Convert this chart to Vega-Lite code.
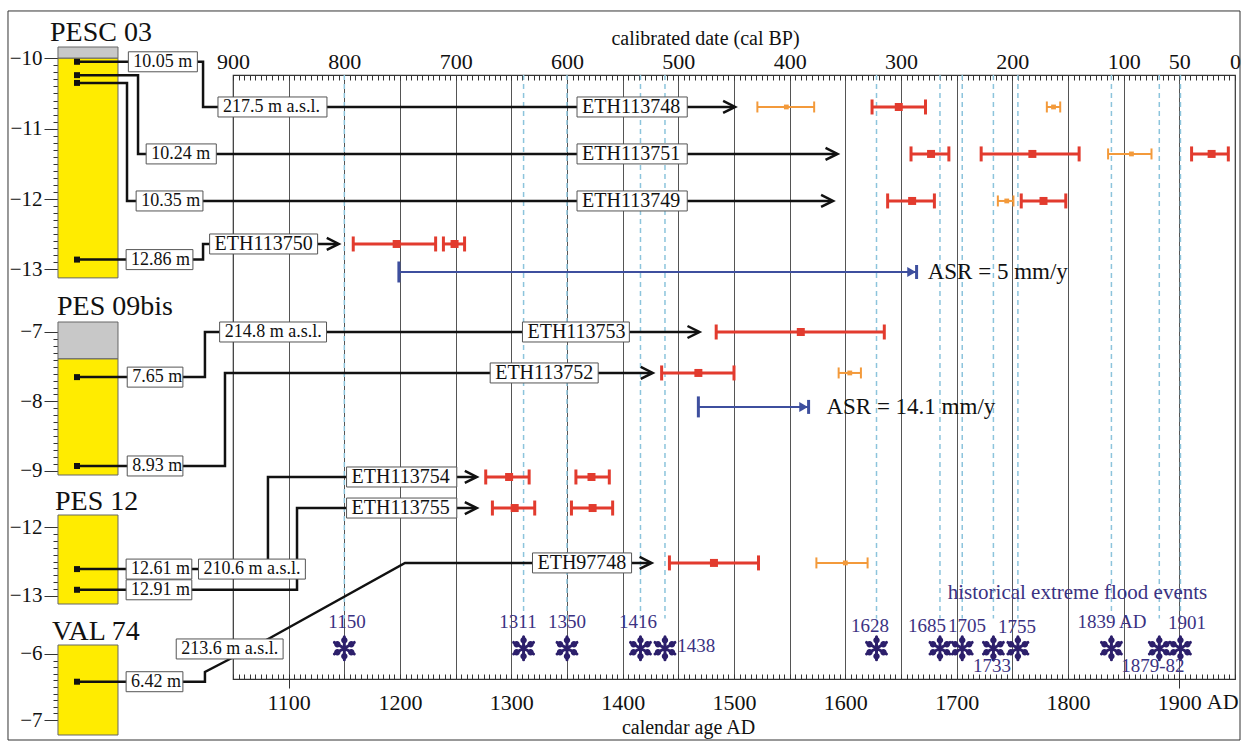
{
  "$schema": "https://vega.github.io/schema/vega-lite/v6.json",
  "width": 1002,
  "height": 604,
  "autosize": "none",
  "padding": {"left": 233, "top": 75, "right": 8, "bottom": 63},
  "background": "white",
  "config": {
    "font": "Liberation Serif",
    "text": {"font": "Liberation Serif"},
    "view": {"stroke": "#333", "strokeWidth": 1.2},
    "axis": {"labelFont": "Liberation Serif", "titleFont": "Liberation Serif", "labelColor": "#111", "titleColor": "#111", "tickColor": "#333", "gridColor": "#555", "titleFontWeight": "normal", "labelOverlap": false, "labelBound": false, "labelFlush": false}
  },
  "datasets": {
    "cores": [
      {"core": "PESC 03", "unit": "top", "x": 892.8, "x2": 946.7, "y": -9.84, "y2": -10.0},
      {"core": "PESC 03", "unit": "sediment", "x": 892.8, "x2": 946.7, "y": -10.0, "y2": -13.12},
      {"core": "PES 09bis", "unit": "top", "x": 892.8, "x2": 946.7, "y": -6.856, "y2": -7.388},
      {"core": "PES 09bis", "unit": "sediment", "x": 892.8, "x2": 946.7, "y": -7.388, "y2": -9.06},
      {"core": "PES 12", "unit": "sediment", "x": 892.8, "x2": 946.7, "y": -11.826, "y2": -13.116},
      {"core": "VAL 74", "unit": "sediment", "x": 892.8, "x2": 946.7, "y": -5.864, "y2": -7.227}
    ],
    "titles": [
      {"core": "PESC 03", "label": "PESC 03", "x": 885.6, "y": -9.648},
      {"core": "PES 09bis", "label": "PES 09bis", "x": 891.9, "y": -6.64},
      {"core": "PES 12", "label": "PES 12", "x": 890.1, "y": -11.638},
      {"core": "VAL 74", "label": "VAL 74", "x": 887.4, "y": -5.667}
    ],
    "samples": [
      {"core": "PESC 03", "x": 909.9, "y": -10.05},
      {"core": "PESC 03", "x": 909.9, "y": -10.24},
      {"core": "PESC 03", "x": 909.9, "y": -10.35},
      {"core": "PESC 03", "x": 909.9, "y": -12.86},
      {"core": "PES 09bis", "x": 909.9, "y": -7.65},
      {"core": "PES 09bis", "x": 909.9, "y": -8.93},
      {"core": "PES 12", "x": 909.9, "y": -12.61},
      {"core": "PES 12", "x": 909.9, "y": -12.91},
      {"core": "VAL 74", "x": 909.9, "y": -6.42}
    ],
    "paths": [
      {"core": "PESC 03", "id": "p1", "ord": 1, "x": 909.9, "y": -10.05},
      {"core": "PESC 03", "id": "p1", "ord": 2, "x": 1023.1, "y": -10.05},
      {"core": "PESC 03", "id": "p1", "ord": 3, "x": 1023.1, "y": -10.692},
      {"core": "PESC 03", "id": "p1", "ord": 4, "x": 1500, "y": -10.692},
      {"core": "PESC 03", "id": "p2", "ord": 1, "x": 909.9, "y": -10.24},
      {"core": "PESC 03", "id": "p2", "ord": 2, "x": 964.7, "y": -10.24},
      {"core": "PESC 03", "id": "p2", "ord": 3, "x": 964.7, "y": -11.359},
      {"core": "PESC 03", "id": "p2", "ord": 4, "x": 1592, "y": -11.359},
      {"core": "PESC 03", "id": "p3", "ord": 1, "x": 909.9, "y": -10.35},
      {"core": "PESC 03", "id": "p3", "ord": 2, "x": 954.8, "y": -10.35},
      {"core": "PESC 03", "id": "p3", "ord": 3, "x": 954.8, "y": -12.027},
      {"core": "PESC 03", "id": "p3", "ord": 4, "x": 1588, "y": -12.027},
      {"core": "PESC 03", "id": "p4", "ord": 1, "x": 909.9, "y": -12.86},
      {"core": "PESC 03", "id": "p4", "ord": 2, "x": 1023.1, "y": -12.86},
      {"core": "PESC 03", "id": "p4", "ord": 3, "x": 1023.1, "y": -12.638},
      {"core": "PESC 03", "id": "p4", "ord": 4, "x": 1144, "y": -12.638},
      {"core": "PES 09bis", "id": "p5", "ord": 1, "x": 909.9, "y": -7.65},
      {"core": "PES 09bis", "id": "p5", "ord": 2, "x": 1024.8, "y": -7.65},
      {"core": "PES 09bis", "id": "p5", "ord": 3, "x": 1024.8, "y": -7.0},
      {"core": "PES 09bis", "id": "p5", "ord": 4, "x": 1468, "y": -7.0},
      {"core": "PES 09bis", "id": "p6", "ord": 1, "x": 909.9, "y": -8.93},
      {"core": "PES 09bis", "id": "p6", "ord": 2, "x": 1042.8, "y": -8.93},
      {"core": "PES 09bis", "id": "p6", "ord": 3, "x": 1042.8, "y": -7.59},
      {"core": "PES 09bis", "id": "p6", "ord": 4, "x": 1426, "y": -7.59},
      {"core": "PES 12", "id": "p7", "ord": 1, "x": 909.9, "y": -12.61},
      {"core": "PES 12", "id": "p7", "ord": 2, "x": 1081.4, "y": -12.61},
      {"core": "PES 12", "id": "p7", "ord": 3, "x": 1081.4, "y": -11.275},
      {"core": "PES 12", "id": "p7", "ord": 4, "x": 1268, "y": -11.275},
      {"core": "PES 12", "id": "p8", "ord": 1, "x": 909.9, "y": -12.91},
      {"core": "PES 12", "id": "p8", "ord": 2, "x": 1107.5, "y": -12.91},
      {"core": "PES 12", "id": "p8", "ord": 3, "x": 1107.5, "y": -11.725},
      {"core": "PES 12", "id": "p8", "ord": 4, "x": 1268, "y": -11.725},
      {"core": "VAL 74", "id": "p9", "ord": 1, "x": 909.9, "y": -6.42},
      {"core": "VAL 74", "id": "p9", "ord": 2, "x": 1024.8, "y": -6.42},
      {"core": "VAL 74", "id": "p9", "ord": 3, "x": 1024.8, "y": -6.273},
      {"core": "VAL 74", "id": "p9", "ord": 4, "x": 1045.5, "y": -6.091},
      {"core": "VAL 74", "id": "p9", "ord": 5, "x": 1083.2, "y": -5.758},
      {"core": "VAL 74", "id": "p9", "ord": 6, "x": 1204.5, "y": -4.621},
      {"core": "VAL 74", "id": "p9", "ord": 7, "x": 1425, "y": -4.621}
    ],
    "arrows": [
      {"core": "PESC 03", "x": 1501, "y": -10.692},
      {"core": "PESC 03", "x": 1593, "y": -11.359},
      {"core": "PESC 03", "x": 1589, "y": -12.027},
      {"core": "PESC 03", "x": 1145, "y": -12.638},
      {"core": "PES 09bis", "x": 1469, "y": -7.0},
      {"core": "PES 09bis", "x": 1427, "y": -7.59},
      {"core": "PES 12", "x": 1269, "y": -11.275},
      {"core": "PES 12", "x": 1269, "y": -11.725},
      {"core": "VAL 74", "x": 1426, "y": -4.621}
    ],
    "boxes": [
      {"core": "PESC 03", "label": "10.05 m", "kind": "depth", "x": 956, "x2": 1018, "y": -10.05},
      {"core": "PESC 03", "label": "217.5 m a.s.l.", "kind": "depth", "x": 1036.5, "x2": 1134.4, "y": -10.692},
      {"core": "PESC 03", "label": "ETH113748", "kind": "lab", "x": 1359, "x2": 1458, "y": -10.692},
      {"core": "PESC 03", "label": "10.24 m", "kind": "depth", "x": 972, "x2": 1035, "y": -11.359},
      {"core": "PESC 03", "label": "ETH113751", "kind": "lab", "x": 1359, "x2": 1458, "y": -11.359},
      {"core": "PESC 03", "label": "10.35 m", "kind": "depth", "x": 963, "x2": 1023, "y": -12.027},
      {"core": "PESC 03", "label": "ETH113749", "kind": "lab", "x": 1359, "x2": 1458, "y": -12.027},
      {"core": "PESC 03", "label": "12.86 m", "kind": "depth", "x": 954, "x2": 1014, "y": -12.86},
      {"core": "PESC 03", "label": "ETH113750", "kind": "lab", "x": 1029, "x2": 1126, "y": -12.638},
      {"core": "PES 09bis", "label": "7.65 m", "kind": "depth", "x": 955, "x2": 1005, "y": -7.65},
      {"core": "PES 09bis", "label": "214.8 m a.s.l.", "kind": "depth", "x": 1038, "x2": 1134, "y": -7.0},
      {"core": "PES 09bis", "label": "ETH113753", "kind": "lab", "x": 1310, "x2": 1406, "y": -7.0},
      {"core": "PES 09bis", "label": "8.93 m", "kind": "depth", "x": 955, "x2": 1005, "y": -8.93},
      {"core": "PES 09bis", "label": "ETH113752", "kind": "lab", "x": 1281, "x2": 1378, "y": -7.59},
      {"core": "PES 12", "label": "12.61 m", "kind": "depth", "x": 954, "x2": 1013, "y": -12.61},
      {"core": "PES 12", "label": "210.6 m a.s.l.", "kind": "depth", "x": 1019, "x2": 1115, "y": -12.61},
      {"core": "PES 12", "label": "12.91 m", "kind": "depth", "x": 954, "x2": 1013, "y": -12.91},
      {"core": "PES 12", "label": "ETH113754", "kind": "lab", "x": 1152, "x2": 1251, "y": -11.275},
      {"core": "PES 12", "label": "ETH113755", "kind": "lab", "x": 1152, "x2": 1251, "y": -11.725},
      {"core": "VAL 74", "label": "6.42 m", "kind": "depth", "x": 954, "x2": 1005, "y": -6.42},
      {"core": "VAL 74", "label": "213.6 m a.s.l.", "kind": "depth", "x": 999, "x2": 1095, "y": -5.924},
      {"core": "VAL 74", "label": "ETH97748", "kind": "lab", "x": 1319, "x2": 1408, "y": -4.621}
    ],
    "bars": [
      {"core": "PESC 03", "y": -10.692, "x": 1521, "xm": 1547, "x2": 1572, "kind": "orange"},
      {"core": "PESC 03", "y": -10.692, "x": 1624, "xm": 1648, "x2": 1672, "kind": "red"},
      {"core": "PESC 03", "y": -10.692, "x": 1781, "xm": 1787, "x2": 1793, "kind": "orange"},
      {"core": "PESC 03", "y": -11.359, "x": 1659, "xm": 1677, "x2": 1693, "kind": "red"},
      {"core": "PESC 03", "y": -11.359, "x": 1722, "xm": 1768, "x2": 1810, "kind": "red"},
      {"core": "PESC 03", "y": -11.359, "x": 1836, "xm": 1857, "x2": 1875, "kind": "orange"},
      {"core": "PESC 03", "y": -11.359, "x": 1911, "xm": 1929, "x2": 1944, "kind": "red"},
      {"core": "PESC 03", "y": -12.027, "x": 1638, "xm": 1660, "x2": 1680, "kind": "red"},
      {"core": "PESC 03", "y": -12.027, "x": 1737, "xm": 1745, "x2": 1751, "kind": "orange"},
      {"core": "PESC 03", "y": -12.027, "x": 1758, "xm": 1778, "x2": 1798, "kind": "red"},
      {"core": "PESC 03", "y": -12.638, "x": 1158, "xm": 1197, "x2": 1232, "kind": "red"},
      {"core": "PESC 03", "y": -12.638, "x": 1239, "xm": 1249, "x2": 1258, "kind": "red"},
      {"core": "PES 09bis", "y": -7.0, "x": 1484, "xm": 1560, "x2": 1635, "kind": "red"},
      {"core": "PES 09bis", "y": -7.59, "x": 1435, "xm": 1468, "x2": 1500, "kind": "red"},
      {"core": "PES 09bis", "y": -7.59, "x": 1594, "xm": 1604, "x2": 1614, "kind": "orange"},
      {"core": "PES 12", "y": -11.275, "x": 1277, "xm": 1298, "x2": 1316, "kind": "red"},
      {"core": "PES 12", "y": -11.275, "x": 1358, "xm": 1372, "x2": 1388, "kind": "red"},
      {"core": "PES 12", "y": -11.725, "x": 1283, "xm": 1303, "x2": 1321, "kind": "red"},
      {"core": "PES 12", "y": -11.725, "x": 1354, "xm": 1373, "x2": 1391, "kind": "red"},
      {"core": "VAL 74", "y": -4.621, "x": 1442, "xm": 1482, "x2": 1522, "kind": "red"},
      {"core": "VAL 74", "y": -4.621, "x": 1574, "xm": 1600, "x2": 1620, "kind": "orange"}
    ],
    "asr": [
      {"core": "PESC 03", "y": -13.036, "x": 1199, "x2": 1664, "label": "ASR = 5 mm/y", "lx": 1674},
      {"core": "PES 09bis", "y": -8.079, "x": 1468, "x2": 1567, "label": "ASR = 14.1 mm/y", "lx": 1583}
    ],
    "floods": [
      {"x": 1150, "label": "1150", "lx": 1152.4, "ly": 0.906},
      {"x": 1311, "label": "1311", "lx": 1306, "ly": 0.906},
      {"x": 1350, "label": "1350", "lx": 1350, "ly": 0.906},
      {"x": 1416, "label": "1416", "lx": 1413.8, "ly": 0.906},
      {"x": 1438, "label": "1438", "lx": 1466, "ly": 0.945},
      {"x": 1628, "label": "1628", "lx": 1622.2, "ly": 0.912},
      {"x": 1685, "label": "1685", "lx": 1673.4, "ly": 0.912},
      {"x": 1705, "label": "1705", "lx": 1709.3, "ly": 0.912},
      {"x": 1733, "label": "1733", "lx": 1731.7, "ly": 0.979},
      {"x": 1755, "label": "1755", "lx": 1754.2, "ly": 0.914},
      {"x": 1839, "label": "1839 AD", "lx": 1839.5, "ly": 0.906},
      {"x": 1882, "label": "1879-82", "lx": 1876.3, "ly": 0.979},
      {"x": 1901, "label": "1901", "lx": 1906.9, "ly": 0.907}
    ]
  },
  "layer": [
    {
      "resolve": {"axis": {"x": "independent"}},
      "layer": [
        {
          "data": {"name": "floods"},
          "mark": {"type": "rule", "stroke": "#8cc4dc", "strokeWidth": 1.5, "strokeDash": [5, 4]},
          "encoding": {
            "x": {"field": "x", "type": "quantitative", "scale": {"domain": [1050, 1950], "nice": false, "zero": false},
              "axis": {"orient": "bottom", "values": [1100, 1200, 1300, 1400, 1500, 1600, 1700, 1800, 1900], "format": "d", "tickSize": 9,
                "tickOpacity": {"condition": {"test": "datum.value == 1100 || datum.value == 1900", "value": 1}, "value": 0},
                "labelPadding": 4, "labelFontSize": 22, "domain": false, "grid": false,
                "title": "calendar age AD", "titleFontSize": 20, "titleX": 455, "titleY": 48, "titleBaseline": "middle", "titleAlign": "center"}},
            "y": {"datum": 0, "type": "quantitative", "scale": {"domain": [0, 1], "range": [0, 604], "nice": false, "zero": false}, "axis": null},
            "y2": {"datum": 0.9}
          }
        },
        {
          "data": {"name": "floods"},
          "mark": {"type": "point", "shape": "M0,-1V1M-0.866,-0.5L0.866,0.5M-0.866,0.5L0.866,-0.5", "filled": false, "size": 529, "strokeWidth": 3, "strokeCap": "round", "color": "#2c1f6b", "opacity": 1},
          "encoding": {
            "x": {"field": "x", "type": "quantitative", "scale": {"domain": [1050, 1950], "nice": false, "zero": false},
              "axis": {"orient": "bottom", "ticks": true, "tickSize": -5, "tickColor": "#333", "tickWidth": 1,
                "values": [1050,1055,1060,1065,1070,1075,1080,1085,1090,1095,1100,1105,1110,1115,1120,1125,1130,1135,1140,1145,1150,1155,1160,1165,1170,1175,1180,1185,1190,1195,1200,1205,1210,1215,1220,1225,1230,1235,1240,1245,1250,1255,1260,1265,1270,1275,1280,1285,1290,1295,1300,1305,1310,1315,1320,1325,1330,1335,1340,1345,1350,1355,1360,1365,1370,1375,1380,1385,1390,1395,1400,1405,1410,1415,1420,1425,1430,1435,1440,1445,1450,1455,1460,1465,1470,1475,1480,1485,1490,1495,1500,1505,1510,1515,1520,1525,1530,1535,1540,1545,1550,1555,1560,1565,1570,1575,1580,1585,1590,1595,1600,1605,1610,1615,1620,1625,1630,1635,1640,1645,1650,1655,1660,1665,1670,1675,1680,1685,1690,1695,1700,1705,1710,1715,1720,1725,1730,1735,1740,1745,1750,1755,1760,1765,1770,1775,1780,1785,1790,1795,1800,1805,1810,1815,1820,1825,1830,1835,1840,1845,1850,1855,1860,1865,1870,1875,1880,1885,1890,1895,1900,1905,1910,1915,1920,1925,1930,1935,1940,1945,1950],
                "labels": false, "domain": false, "grid": false, "title": null}},
            "y": {"datum": 0.949, "type": "quantitative", "scale": {"domain": [0, 1], "range": [0, 604], "nice": false, "zero": false}, "axis": null}
          }
        },
        {
          "data": {"name": "floods"},
          "mark": {"type": "point", "shape": "M-0.28,-0.7a0.28,0.28 0 1,0 0.56,0a0.28,0.28 0 1,0 -0.56,0ZM-0.28,0.7a0.28,0.28 0 1,0 0.56,0a0.28,0.28 0 1,0 -0.56,0ZM0.326,-0.35a0.28,0.28 0 1,0 0.56,0a0.28,0.28 0 1,0 -0.56,0ZM-0.886,0.35a0.28,0.28 0 1,0 0.56,0a0.28,0.28 0 1,0 -0.56,0ZM0.326,0.35a0.28,0.28 0 1,0 0.56,0a0.28,0.28 0 1,0 -0.56,0ZM-0.886,-0.35a0.28,0.28 0 1,0 0.56,0a0.28,0.28 0 1,0 -0.56,0Z", "filled": true, "size": 529, "color": "#2c1f6b", "opacity": 1},
          "encoding": {
            "x": {"field": "x", "type": "quantitative", "scale": {"domain": [1050, 1950], "nice": false, "zero": false}, "axis": null},
            "y": {"datum": 0.949, "type": "quantitative", "scale": {"domain": [0, 1], "range": [0, 604], "nice": false, "zero": false}, "axis": null}
          }
        },
        {
          "data": {"name": "floods"},
          "mark": {"type": "text", "fontSize": 19, "color": "#3b3282", "align": "center", "baseline": "middle"},
          "encoding": {
            "x": {"field": "lx", "type": "quantitative", "scale": {"domain": [1050, 1950], "nice": false, "zero": false},
              "axis": {"orient": "top", "values": [1050, 1150, 1250, 1350, 1450, 1550, 1650, 1750, 1850, 1900, 1950],
                "labelExpr": "format(1950 - datum.value, 'd')", "ticks": false, "domain": false, "grid": false,
                "labelPadding": 2, "labelFontSize": 22,
                "title": "calibrated date (cal BP)", "titleFontSize": 20, "titleX": 472, "titleY": -37, "titleBaseline": "middle", "titleAlign": "center"}},
            "y": {"field": "ly", "type": "quantitative", "scale": {"domain": [0, 1], "range": [0, 604], "nice": false, "zero": false}, "axis": null},
            "text": {"field": "label"}
          }
        },
        {
          "data": {"values": [{"label": "historical extreme flood events"}]},
          "mark": {"type": "text", "fontSize": 21, "color": "#3b3282", "align": "center", "baseline": "middle"},
          "encoding": {
            "x": {"datum": 1808.5, "type": "quantitative", "scale": {"domain": [1050, 1950], "nice": false, "zero": false},
              "axis": {"orient": "top", "ticks": true, "tickSize": -5, "tickColor": "#333", "tickWidth": 1,
                "values": [1050,1055,1060,1065,1070,1075,1080,1085,1090,1095,1100,1105,1110,1115,1120,1125,1130,1135,1140,1145,1150,1155,1160,1165,1170,1175,1180,1185,1190,1195,1200,1205,1210,1215,1220,1225,1230,1235,1240,1245,1250,1255,1260,1265,1270,1275,1280,1285,1290,1295,1300,1305,1310,1315,1320,1325,1330,1335,1340,1345,1350,1355,1360,1365,1370,1375,1380,1385,1390,1395,1400,1405,1410,1415,1420,1425,1430,1435,1440,1445,1450,1455,1460,1465,1470,1475,1480,1485,1490,1495,1500,1505,1510,1515,1520,1525,1530,1535,1540,1545,1550,1555,1560,1565,1570,1575,1580,1585,1590,1595,1600,1605,1610,1615,1620,1625,1630,1635,1640,1645,1650,1655,1660,1665,1670,1675,1680,1685,1690,1695,1700,1705,1710,1715,1720,1725,1730,1735,1740,1745,1750,1755,1760,1765,1770,1775,1780,1785,1790,1795,1800,1805,1810,1815,1820,1825,1830,1835,1840,1845,1850,1855,1860,1865,1870,1875,1880,1885,1890,1895,1900,1905,1910,1915,1920,1925,1930,1935,1940,1945,1950],
                "labels": false, "domain": false, "grid": false, "title": null}},
            "y": {"datum": 0.858, "type": "quantitative", "scale": {"domain": [0, 1], "range": [0, 604], "nice": false, "zero": false}, "axis": null},
            "text": {"field": "label"}
          }
        },
        {
          "data": {"values": [{"label": "AD"}]},
          "mark": {"type": "text", "fontSize": 22, "color": "#111", "align": "center", "baseline": "top"},
          "encoding": {
            "x": {"datum": 1939, "type": "quantitative", "scale": {"domain": [1050, 1950], "nice": false, "zero": false},
              "axis": {"orient": "bottom", "values": [1100, 1150, 1200, 1250, 1300, 1350, 1400, 1450, 1500, 1550, 1600, 1650, 1700, 1750, 1800, 1850, 1900], "grid": true, "gridColor": "#555", "gridWidth": 1, "ticks": false, "labels": false, "domain": false, "title": null}},
            "y": {"datum": 1.0215, "type": "quantitative", "scale": {"domain": [0, 1], "range": [0, 604], "nice": false, "zero": false}, "axis": null},
            "text": {"field": "label"}
          }
        },
        {
          "data": {"values": [{"label": "frame"}]},
          "mark": {"type": "rect", "filled": false, "color": "#333", "strokeWidth": 1},
          "encoding": {
            "x": {"datum": 847.9, "type": "quantitative", "scale": {"domain": [1050, 1950], "nice": false, "zero": false}, "axis": null},
            "x2": {"datum": 1954.5},
            "y": {"datum": -0.106, "type": "quantitative", "scale": {"domain": [0, 1], "range": [0, 604], "nice": false, "zero": false}, "axis": null},
            "y2": {"datum": 1.101}
          }
        }
      ]
    },
    {
      "encoding": {
        "x": {"field": "x", "type": "quantitative", "scale": {"domain": [1050, 1950], "nice": false, "zero": false}, "axis": null},
        "y": {"field": "y", "type": "quantitative", "scale": {"domain": [-13.12, -9.84], "range": [202.9, -28], "nice": false, "zero": false},
          "axis": {"orient": "left", "offset": 175, "values": [-10, -10.1, -10.2, -10.3, -10.4, -10.5, -10.6, -10.7, -10.8, -10.9, -11, -11.1, -11.2, -11.3, -11.4, -11.5, -11.6, -11.7, -11.8, -11.9, -12, -12.1, -12.2, -12.3, -12.4, -12.5, -12.6, -12.7, -12.8, -12.9, -13],
            "domain": false, "grid": false, "title": null,
            "tickSize": {"condition": {"test": "datum.value == round(datum.value)", "value": 14}, "value": 5},
            "labelExpr": "datum.value == round(datum.value) ? format(datum.value, 'd') : ''",
            "labelPadding": 2, "labelFontSize": 21}}
      },
      "layer": [
        {"data": {"name": "cores"}, "transform": [{"filter": "datum.core == 'PESC 03'"}], "mark": {"type": "rect", "stroke": "#666", "strokeWidth": 1},
          "encoding": {"x2": {"field": "x2"}, "y2": {"field": "y2"}, "color": {"field": "unit", "type": "nominal", "scale": {"domain": ["top", "sediment", "red", "orange"], "range": ["#c8c8c8", "#ffec00", "#e23b2e", "#f39a3b"]}, "legend": null}}},
        {"data": {"name": "paths"}, "transform": [{"filter": "datum.core == 'PESC 03'"}], "mark": {"type": "line", "color": "#111", "strokeWidth": 2.5},
          "encoding": {"detail": {"field": "id", "type": "nominal"}, "order": {"field": "ord", "type": "quantitative"}}},
        {"data": {"name": "samples"}, "transform": [{"filter": "datum.core == 'PESC 03'"}], "mark": {"type": "point", "shape": "square", "filled": true, "size": 36, "color": "#111", "opacity": 1}},
        {"data": {"name": "arrows"}, "transform": [{"filter": "datum.core == 'PESC 03'"}], "mark": {"type": "point", "shape": "M-2,-1L0,0L-2,1", "filled": false, "size": 144, "color": "#111", "strokeWidth": 2.5, "opacity": 1}},
        {"data": {"name": "boxes"}, "transform": [{"filter": "datum.core == 'PESC 03'"}], "mark": {"type": "rect", "fill": "white", "stroke": "#555", "strokeWidth": 1, "yOffset": -10, "y2Offset": 10},
          "encoding": {"x2": {"field": "x2"}, "y2": {"field": "y"}}},
        {"data": {"name": "boxes"}, "transform": [{"filter": "datum.core == 'PESC 03' && datum.kind == 'depth'"}], "mark": {"type": "text", "align": "left", "baseline": "middle", "dx": 5, "fontSize": 18, "color": "#111"},
          "encoding": {"text": {"field": "label"}}},
        {"data": {"name": "boxes"}, "transform": [{"filter": "datum.core == 'PESC 03' && datum.kind == 'lab'"}], "mark": {"type": "text", "align": "left", "baseline": "middle", "dx": 5, "fontSize": 20, "color": "#111"},
          "encoding": {"text": {"field": "label"}}},
        {"data": {"name": "bars"}, "transform": [{"filter": "datum.core == 'PESC 03'"}], "mark": {"type": "rule"},
          "encoding": {"x2": {"field": "x2"}, "color": {"field": "kind", "type": "nominal", "scale": {"domain": ["top", "sediment", "red", "orange"], "range": ["#c8c8c8", "#ffec00", "#e23b2e", "#f39a3b"]}, "legend": null},
            "strokeWidth": {"field": "kind", "type": "nominal", "scale": {"domain": ["red", "orange"], "range": [3, 2]}, "legend": null}}},
        {"data": {"name": "bars"}, "transform": [{"filter": "datum.core == 'PESC 03'"}, {"fold": ["x", "x2"], "as": ["end", "xc"]}], "mark": {"type": "point", "shape": "M0,-1V1", "filled": false, "opacity": 1},
          "encoding": {"x": {"field": "xc", "type": "quantitative", "scale": {"domain": [1050, 1950], "nice": false, "zero": false}, "axis": null},
            "color": {"field": "kind", "type": "nominal", "scale": {"domain": ["top", "sediment", "red", "orange"], "range": ["#c8c8c8", "#ffec00", "#e23b2e", "#f39a3b"]}, "legend": null},
            "strokeWidth": {"field": "kind", "type": "nominal", "scale": {"domain": ["red", "orange"], "range": [3, 2]}, "legend": null},
            "size": {"field": "kind", "type": "nominal", "scale": {"domain": ["red", "orange"], "range": [225, 121]}, "legend": null}}},
        {"data": {"name": "bars"}, "transform": [{"filter": "datum.core == 'PESC 03'"}], "mark": {"type": "point", "filled": true, "size": 64, "opacity": 1},
          "encoding": {"x": {"field": "xm", "type": "quantitative", "scale": {"domain": [1050, 1950], "nice": false, "zero": false}, "axis": null},
            "color": {"field": "kind", "type": "nominal", "scale": {"domain": ["top", "sediment", "red", "orange"], "range": ["#c8c8c8", "#ffec00", "#e23b2e", "#f39a3b"]}, "legend": null},
            "shape": {"field": "kind", "type": "nominal", "scale": {"domain": ["red", "orange"], "range": ["M-1,-1H1V1H-1Z", "M-0.6,-0.6H0.6V0.6H-0.6Z"]}, "legend": null}}},
        {"data": {"name": "asr"}, "transform": [{"filter": "datum.core == 'PESC 03'"}], "mark": {"type": "rule", "color": "#3e4f9e", "strokeWidth": 2},
          "encoding": {"x2": {"field": "x2"}}},
        {"data": {"name": "asr"}, "transform": [{"filter": "datum.core == 'PESC 03'"}], "mark": {"type": "point", "shape": "M0,-1V1", "filled": false, "size": 441, "strokeWidth": 3, "color": "#3e4f9e", "opacity": 1}},
        {"data": {"name": "asr"}, "transform": [{"filter": "datum.core == 'PESC 03'"}], "mark": {"type": "point", "shape": "triangle-right", "filled": true, "size": 100, "xOffset": -5, "color": "#3e4f9e", "opacity": 1},
          "encoding": {"x": {"field": "x2", "type": "quantitative", "scale": {"domain": [1050, 1950], "nice": false, "zero": false}, "axis": null}}},
        {"data": {"name": "asr"}, "transform": [{"filter": "datum.core == 'PESC 03'"}], "mark": {"type": "point", "shape": "M0,-1V1", "filled": false, "size": 196, "strokeWidth": 3, "color": "#3e4f9e", "opacity": 1},
          "encoding": {"x": {"field": "x2", "type": "quantitative", "scale": {"domain": [1050, 1950], "nice": false, "zero": false}, "axis": null}}},
        {"data": {"name": "asr"}, "transform": [{"filter": "datum.core == 'PESC 03'"}], "mark": {"type": "text", "align": "left", "baseline": "middle", "fontSize": 23, "color": "#111"},
          "encoding": {"x": {"field": "lx", "type": "quantitative", "scale": {"domain": [1050, 1950], "nice": false, "zero": false}, "axis": null}, "text": {"field": "label"}}},
        {"data": {"name": "titles"}, "transform": [{"filter": "datum.core == 'PESC 03'"}], "mark": {"type": "text", "align": "left", "baseline": "middle", "fontSize": 28, "color": "#111"},
          "encoding": {"text": {"field": "label"}}}
      ]
    },
    {
      "encoding": {
        "x": {"field": "x", "type": "quantitative", "scale": {"domain": [1050, 1950], "nice": false, "zero": false}, "axis": null},
        "y": {"field": "y", "type": "quantitative", "scale": {"domain": [-9.06, -6.856], "range": [400, 247], "nice": false, "zero": false},
          "axis": {"orient": "left", "offset": 175, "values": [-7, -7.1, -7.2, -7.3, -7.4, -7.5, -7.6, -7.7, -7.8, -7.9, -8, -8.1, -8.2, -8.3, -8.4, -8.5, -8.6, -8.7, -8.8, -8.9, -9],
            "domain": false, "grid": false, "title": null,
            "tickSize": {"condition": {"test": "datum.value == round(datum.value)", "value": 14}, "value": 5},
            "labelExpr": "datum.value == round(datum.value) ? format(datum.value, 'd') : ''",
            "labelPadding": 2, "labelFontSize": 21}}
      },
      "layer": [
        {"data": {"name": "cores"}, "transform": [{"filter": "datum.core == 'PES 09bis'"}], "mark": {"type": "rect", "stroke": "#666", "strokeWidth": 1},
          "encoding": {"x2": {"field": "x2"}, "y2": {"field": "y2"}, "color": {"field": "unit", "type": "nominal", "scale": {"domain": ["top", "sediment", "red", "orange"], "range": ["#c8c8c8", "#ffec00", "#e23b2e", "#f39a3b"]}, "legend": null}}},
        {"data": {"name": "paths"}, "transform": [{"filter": "datum.core == 'PES 09bis'"}], "mark": {"type": "line", "color": "#111", "strokeWidth": 2.5},
          "encoding": {"detail": {"field": "id", "type": "nominal"}, "order": {"field": "ord", "type": "quantitative"}}},
        {"data": {"name": "samples"}, "transform": [{"filter": "datum.core == 'PES 09bis'"}], "mark": {"type": "point", "shape": "square", "filled": true, "size": 36, "color": "#111", "opacity": 1}},
        {"data": {"name": "arrows"}, "transform": [{"filter": "datum.core == 'PES 09bis'"}], "mark": {"type": "point", "shape": "M-2,-1L0,0L-2,1", "filled": false, "size": 144, "color": "#111", "strokeWidth": 2.5, "opacity": 1}},
        {"data": {"name": "boxes"}, "transform": [{"filter": "datum.core == 'PES 09bis'"}], "mark": {"type": "rect", "fill": "white", "stroke": "#555", "strokeWidth": 1, "yOffset": -10, "y2Offset": 10},
          "encoding": {"x2": {"field": "x2"}, "y2": {"field": "y"}}},
        {"data": {"name": "boxes"}, "transform": [{"filter": "datum.core == 'PES 09bis' && datum.kind == 'depth'"}], "mark": {"type": "text", "align": "left", "baseline": "middle", "dx": 5, "fontSize": 18, "color": "#111"},
          "encoding": {"text": {"field": "label"}}},
        {"data": {"name": "boxes"}, "transform": [{"filter": "datum.core == 'PES 09bis' && datum.kind == 'lab'"}], "mark": {"type": "text", "align": "left", "baseline": "middle", "dx": 5, "fontSize": 20, "color": "#111"},
          "encoding": {"text": {"field": "label"}}},
        {"data": {"name": "bars"}, "transform": [{"filter": "datum.core == 'PES 09bis'"}], "mark": {"type": "rule"},
          "encoding": {"x2": {"field": "x2"}, "color": {"field": "kind", "type": "nominal", "scale": {"domain": ["top", "sediment", "red", "orange"], "range": ["#c8c8c8", "#ffec00", "#e23b2e", "#f39a3b"]}, "legend": null},
            "strokeWidth": {"field": "kind", "type": "nominal", "scale": {"domain": ["red", "orange"], "range": [3, 2]}, "legend": null}}},
        {"data": {"name": "bars"}, "transform": [{"filter": "datum.core == 'PES 09bis'"}, {"fold": ["x", "x2"], "as": ["end", "xc"]}], "mark": {"type": "point", "shape": "M0,-1V1", "filled": false, "opacity": 1},
          "encoding": {"x": {"field": "xc", "type": "quantitative", "scale": {"domain": [1050, 1950], "nice": false, "zero": false}, "axis": null},
            "color": {"field": "kind", "type": "nominal", "scale": {"domain": ["top", "sediment", "red", "orange"], "range": ["#c8c8c8", "#ffec00", "#e23b2e", "#f39a3b"]}, "legend": null},
            "strokeWidth": {"field": "kind", "type": "nominal", "scale": {"domain": ["red", "orange"], "range": [3, 2]}, "legend": null},
            "size": {"field": "kind", "type": "nominal", "scale": {"domain": ["red", "orange"], "range": [225, 121]}, "legend": null}}},
        {"data": {"name": "bars"}, "transform": [{"filter": "datum.core == 'PES 09bis'"}], "mark": {"type": "point", "filled": true, "size": 64, "opacity": 1},
          "encoding": {"x": {"field": "xm", "type": "quantitative", "scale": {"domain": [1050, 1950], "nice": false, "zero": false}, "axis": null},
            "color": {"field": "kind", "type": "nominal", "scale": {"domain": ["top", "sediment", "red", "orange"], "range": ["#c8c8c8", "#ffec00", "#e23b2e", "#f39a3b"]}, "legend": null},
            "shape": {"field": "kind", "type": "nominal", "scale": {"domain": ["red", "orange"], "range": ["M-1,-1H1V1H-1Z", "M-0.6,-0.6H0.6V0.6H-0.6Z"]}, "legend": null}}},
        {"data": {"name": "asr"}, "transform": [{"filter": "datum.core == 'PES 09bis'"}], "mark": {"type": "rule", "color": "#3e4f9e", "strokeWidth": 2},
          "encoding": {"x2": {"field": "x2"}}},
        {"data": {"name": "asr"}, "transform": [{"filter": "datum.core == 'PES 09bis'"}], "mark": {"type": "point", "shape": "M0,-1V1", "filled": false, "size": 441, "strokeWidth": 3, "color": "#3e4f9e", "opacity": 1}},
        {"data": {"name": "asr"}, "transform": [{"filter": "datum.core == 'PES 09bis'"}], "mark": {"type": "point", "shape": "triangle-right", "filled": true, "size": 100, "xOffset": -5, "color": "#3e4f9e", "opacity": 1},
          "encoding": {"x": {"field": "x2", "type": "quantitative", "scale": {"domain": [1050, 1950], "nice": false, "zero": false}, "axis": null}}},
        {"data": {"name": "asr"}, "transform": [{"filter": "datum.core == 'PES 09bis'"}], "mark": {"type": "point", "shape": "M0,-1V1", "filled": false, "size": 196, "strokeWidth": 3, "color": "#3e4f9e", "opacity": 1},
          "encoding": {"x": {"field": "x2", "type": "quantitative", "scale": {"domain": [1050, 1950], "nice": false, "zero": false}, "axis": null}}},
        {"data": {"name": "asr"}, "transform": [{"filter": "datum.core == 'PES 09bis'"}], "mark": {"type": "text", "align": "left", "baseline": "middle", "fontSize": 23, "color": "#111"},
          "encoding": {"x": {"field": "lx", "type": "quantitative", "scale": {"domain": [1050, 1950], "nice": false, "zero": false}, "axis": null}, "text": {"field": "label"}}},
        {"data": {"name": "titles"}, "transform": [{"filter": "datum.core == 'PES 09bis'"}], "mark": {"type": "text", "align": "left", "baseline": "middle", "fontSize": 28, "color": "#111"},
          "encoding": {"text": {"field": "label"}}}
      ]
    },
    {
      "encoding": {
        "x": {"field": "x", "type": "quantitative", "scale": {"domain": [1050, 1950], "nice": false, "zero": false}, "axis": null},
        "y": {"field": "y", "type": "quantitative", "scale": {"domain": [-13.116, -11.826], "range": [529, 440], "nice": false, "zero": false},
          "axis": {"orient": "left", "offset": 175, "values": [-12, -12.1, -12.2, -12.3, -12.4, -12.5, -12.6, -12.7, -12.8, -12.9, -13],
            "domain": false, "grid": false, "title": null,
            "tickSize": {"condition": {"test": "datum.value == round(datum.value)", "value": 14}, "value": 5},
            "labelExpr": "datum.value == round(datum.value) ? format(datum.value, 'd') : ''",
            "labelPadding": 2, "labelFontSize": 21}}
      },
      "layer": [
        {"data": {"name": "cores"}, "transform": [{"filter": "datum.core == 'PES 12'"}], "mark": {"type": "rect", "stroke": "#666", "strokeWidth": 1},
          "encoding": {"x2": {"field": "x2"}, "y2": {"field": "y2"}, "color": {"field": "unit", "type": "nominal", "scale": {"domain": ["top", "sediment", "red", "orange"], "range": ["#c8c8c8", "#ffec00", "#e23b2e", "#f39a3b"]}, "legend": null}}},
        {"data": {"name": "paths"}, "transform": [{"filter": "datum.core == 'PES 12'"}], "mark": {"type": "line", "color": "#111", "strokeWidth": 2.5},
          "encoding": {"detail": {"field": "id", "type": "nominal"}, "order": {"field": "ord", "type": "quantitative"}}},
        {"data": {"name": "samples"}, "transform": [{"filter": "datum.core == 'PES 12'"}], "mark": {"type": "point", "shape": "square", "filled": true, "size": 36, "color": "#111", "opacity": 1}},
        {"data": {"name": "arrows"}, "transform": [{"filter": "datum.core == 'PES 12'"}], "mark": {"type": "point", "shape": "M-2,-1L0,0L-2,1", "filled": false, "size": 144, "color": "#111", "strokeWidth": 2.5, "opacity": 1}},
        {"data": {"name": "boxes"}, "transform": [{"filter": "datum.core == 'PES 12'"}], "mark": {"type": "rect", "fill": "white", "stroke": "#555", "strokeWidth": 1, "yOffset": -10, "y2Offset": 10},
          "encoding": {"x2": {"field": "x2"}, "y2": {"field": "y"}}},
        {"data": {"name": "boxes"}, "transform": [{"filter": "datum.core == 'PES 12' && datum.kind == 'depth'"}], "mark": {"type": "text", "align": "left", "baseline": "middle", "dx": 5, "fontSize": 18, "color": "#111"},
          "encoding": {"text": {"field": "label"}}},
        {"data": {"name": "boxes"}, "transform": [{"filter": "datum.core == 'PES 12' && datum.kind == 'lab'"}], "mark": {"type": "text", "align": "left", "baseline": "middle", "dx": 5, "fontSize": 20, "color": "#111"},
          "encoding": {"text": {"field": "label"}}},
        {"data": {"name": "bars"}, "transform": [{"filter": "datum.core == 'PES 12'"}], "mark": {"type": "rule"},
          "encoding": {"x2": {"field": "x2"}, "color": {"field": "kind", "type": "nominal", "scale": {"domain": ["top", "sediment", "red", "orange"], "range": ["#c8c8c8", "#ffec00", "#e23b2e", "#f39a3b"]}, "legend": null},
            "strokeWidth": {"field": "kind", "type": "nominal", "scale": {"domain": ["red", "orange"], "range": [3, 2]}, "legend": null}}},
        {"data": {"name": "bars"}, "transform": [{"filter": "datum.core == 'PES 12'"}, {"fold": ["x", "x2"], "as": ["end", "xc"]}], "mark": {"type": "point", "shape": "M0,-1V1", "filled": false, "opacity": 1},
          "encoding": {"x": {"field": "xc", "type": "quantitative", "scale": {"domain": [1050, 1950], "nice": false, "zero": false}, "axis": null},
            "color": {"field": "kind", "type": "nominal", "scale": {"domain": ["top", "sediment", "red", "orange"], "range": ["#c8c8c8", "#ffec00", "#e23b2e", "#f39a3b"]}, "legend": null},
            "strokeWidth": {"field": "kind", "type": "nominal", "scale": {"domain": ["red", "orange"], "range": [3, 2]}, "legend": null},
            "size": {"field": "kind", "type": "nominal", "scale": {"domain": ["red", "orange"], "range": [225, 121]}, "legend": null}}},
        {"data": {"name": "bars"}, "transform": [{"filter": "datum.core == 'PES 12'"}], "mark": {"type": "point", "filled": true, "size": 64, "opacity": 1},
          "encoding": {"x": {"field": "xm", "type": "quantitative", "scale": {"domain": [1050, 1950], "nice": false, "zero": false}, "axis": null},
            "color": {"field": "kind", "type": "nominal", "scale": {"domain": ["top", "sediment", "red", "orange"], "range": ["#c8c8c8", "#ffec00", "#e23b2e", "#f39a3b"]}, "legend": null},
            "shape": {"field": "kind", "type": "nominal", "scale": {"domain": ["red", "orange"], "range": ["M-1,-1H1V1H-1Z", "M-0.6,-0.6H0.6V0.6H-0.6Z"]}, "legend": null}}},
        {"data": {"name": "titles"}, "transform": [{"filter": "datum.core == 'PES 12'"}], "mark": {"type": "text", "align": "left", "baseline": "middle", "fontSize": 28, "color": "#111"},
          "encoding": {"text": {"field": "label"}}}
      ]
    },
    {
      "encoding": {
        "x": {"field": "x", "type": "quantitative", "scale": {"domain": [1050, 1950], "nice": false, "zero": false}, "axis": null},
        "y": {"field": "y", "type": "quantitative", "scale": {"domain": [-7.227, -5.864], "range": [660, 570], "nice": false, "zero": false},
          "axis": {"orient": "left", "offset": 175, "values": [-6, -6.1, -6.2, -6.3, -6.4, -6.5, -6.6, -6.7, -6.8, -6.9, -7],
            "domain": false, "grid": false, "title": null,
            "tickSize": {"condition": {"test": "datum.value == round(datum.value)", "value": 14}, "value": 5},
            "labelExpr": "datum.value == round(datum.value) ? format(datum.value, 'd') : ''",
            "labelPadding": 2, "labelFontSize": 21}}
      },
      "layer": [
        {"data": {"name": "cores"}, "transform": [{"filter": "datum.core == 'VAL 74'"}], "mark": {"type": "rect", "stroke": "#666", "strokeWidth": 1},
          "encoding": {"x2": {"field": "x2"}, "y2": {"field": "y2"}, "color": {"field": "unit", "type": "nominal", "scale": {"domain": ["top", "sediment", "red", "orange"], "range": ["#c8c8c8", "#ffec00", "#e23b2e", "#f39a3b"]}, "legend": null}}},
        {"data": {"name": "paths"}, "transform": [{"filter": "datum.core == 'VAL 74'"}], "mark": {"type": "line", "color": "#111", "strokeWidth": 2.5},
          "encoding": {"detail": {"field": "id", "type": "nominal"}, "order": {"field": "ord", "type": "quantitative"}}},
        {"data": {"name": "samples"}, "transform": [{"filter": "datum.core == 'VAL 74'"}], "mark": {"type": "point", "shape": "square", "filled": true, "size": 36, "color": "#111", "opacity": 1}},
        {"data": {"name": "arrows"}, "transform": [{"filter": "datum.core == 'VAL 74'"}], "mark": {"type": "point", "shape": "M-2,-1L0,0L-2,1", "filled": false, "size": 144, "color": "#111", "strokeWidth": 2.5, "opacity": 1}},
        {"data": {"name": "boxes"}, "transform": [{"filter": "datum.core == 'VAL 74'"}], "mark": {"type": "rect", "fill": "white", "stroke": "#555", "strokeWidth": 1, "yOffset": -10, "y2Offset": 10},
          "encoding": {"x2": {"field": "x2"}, "y2": {"field": "y"}}},
        {"data": {"name": "boxes"}, "transform": [{"filter": "datum.core == 'VAL 74' && datum.kind == 'depth'"}], "mark": {"type": "text", "align": "left", "baseline": "middle", "dx": 5, "fontSize": 18, "color": "#111"},
          "encoding": {"text": {"field": "label"}}},
        {"data": {"name": "boxes"}, "transform": [{"filter": "datum.core == 'VAL 74' && datum.kind == 'lab'"}], "mark": {"type": "text", "align": "left", "baseline": "middle", "dx": 5, "fontSize": 20, "color": "#111"},
          "encoding": {"text": {"field": "label"}}},
        {"data": {"name": "bars"}, "transform": [{"filter": "datum.core == 'VAL 74'"}], "mark": {"type": "rule"},
          "encoding": {"x2": {"field": "x2"}, "color": {"field": "kind", "type": "nominal", "scale": {"domain": ["top", "sediment", "red", "orange"], "range": ["#c8c8c8", "#ffec00", "#e23b2e", "#f39a3b"]}, "legend": null},
            "strokeWidth": {"field": "kind", "type": "nominal", "scale": {"domain": ["red", "orange"], "range": [3, 2]}, "legend": null}}},
        {"data": {"name": "bars"}, "transform": [{"filter": "datum.core == 'VAL 74'"}, {"fold": ["x", "x2"], "as": ["end", "xc"]}], "mark": {"type": "point", "shape": "M0,-1V1", "filled": false, "opacity": 1},
          "encoding": {"x": {"field": "xc", "type": "quantitative", "scale": {"domain": [1050, 1950], "nice": false, "zero": false}, "axis": null},
            "color": {"field": "kind", "type": "nominal", "scale": {"domain": ["top", "sediment", "red", "orange"], "range": ["#c8c8c8", "#ffec00", "#e23b2e", "#f39a3b"]}, "legend": null},
            "strokeWidth": {"field": "kind", "type": "nominal", "scale": {"domain": ["red", "orange"], "range": [3, 2]}, "legend": null},
            "size": {"field": "kind", "type": "nominal", "scale": {"domain": ["red", "orange"], "range": [225, 121]}, "legend": null}}},
        {"data": {"name": "bars"}, "transform": [{"filter": "datum.core == 'VAL 74'"}], "mark": {"type": "point", "filled": true, "size": 64, "opacity": 1},
          "encoding": {"x": {"field": "xm", "type": "quantitative", "scale": {"domain": [1050, 1950], "nice": false, "zero": false}, "axis": null},
            "color": {"field": "kind", "type": "nominal", "scale": {"domain": ["top", "sediment", "red", "orange"], "range": ["#c8c8c8", "#ffec00", "#e23b2e", "#f39a3b"]}, "legend": null},
            "shape": {"field": "kind", "type": "nominal", "scale": {"domain": ["red", "orange"], "range": ["M-1,-1H1V1H-1Z", "M-0.6,-0.6H0.6V0.6H-0.6Z"]}, "legend": null}}},
        {"data": {"name": "titles"}, "transform": [{"filter": "datum.core == 'VAL 74'"}], "mark": {"type": "text", "align": "left", "baseline": "middle", "fontSize": 28, "color": "#111"},
          "encoding": {"text": {"field": "label"}}}
      ]
    }
  ],
  "resolve": {"scale": {"y": "independent"}, "axis": {"x": "independent", "y": "independent"}}
}
